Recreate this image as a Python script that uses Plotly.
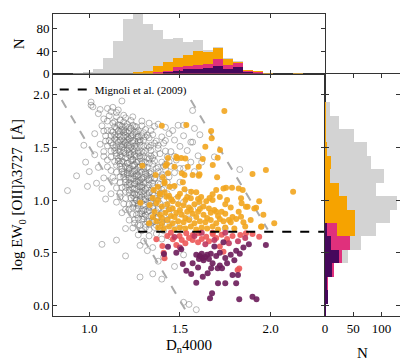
import plotly.graph_objects as go

# ---- scatter data (Dn4000, log EW[OII]) ----
gray_pts = [
    (1.01, 1.93), (1.18, 1.94), (1.01, 1.90), (1.10, 1.87), (1.13, 1.88), (1.02, 1.885),
    (1.05, 1.82), (1.12, 1.84), (1.15, 1.83), (1.08, 1.77), (1.15, 1.79), (1.17, 1.76), (1.20, 1.78),
    (1.13, 1.73), (1.17, 1.71), (1.19, 1.74), (1.21, 1.72), (1.25, 1.70), (1.33, 1.73), (1.38, 1.72), (1.49, 1.71),
    (1.10, 1.66), (1.15, 1.68), (1.18, 1.67), (1.20, 1.65), (1.23, 1.68), (1.27, 1.66), (1.31, 1.67), (1.42, 1.69),
    (1.46, 1.66), (1.58, 1.68),
    (1.03, 1.63), (1.12, 1.61), (1.16, 1.62), (1.19, 1.64), (1.21, 1.60), (1.24, 1.62), (1.26, 1.63), (1.29, 1.61),
    (1.35, 1.62), (1.40, 1.60), (1.44, 1.63), (1.52, 1.61),
    (1.09, 1.56), (1.14, 1.58), (1.17, 1.57), (1.20, 1.55), (1.22, 1.58), (1.25, 1.56), (1.28, 1.57), (1.33, 1.59),
    (1.37, 1.56), (1.47, 1.57), (1.56, 1.55),
    (0.97, 1.52), (1.06, 1.53), (1.15, 1.51), (1.18, 1.53), (1.21, 1.52), (1.23, 1.50), (1.26, 1.53), (1.30, 1.51),
    (1.34, 1.52), (1.41, 1.54), (1.50, 1.51),
    (1.08, 1.46), (1.16, 1.48), (1.19, 1.47), (1.22, 1.45), (1.24, 1.48), (1.27, 1.46), (1.31, 1.47), (1.38, 1.49),
    (1.45, 1.46), (1.54, 1.47),
    (1.03, 1.43), (1.12, 1.41), (1.17, 1.42), (1.20, 1.44), (1.23, 1.41), (1.25, 1.43), (1.28, 1.42), (1.32, 1.40),
    (1.36, 1.43), (1.43, 1.41), (1.60, 1.42),
    (0.98, 1.36), (1.10, 1.38), (1.18, 1.37), (1.21, 1.35), (1.24, 1.38), (1.26, 1.36), (1.29, 1.37), (1.33, 1.39),
    (1.40, 1.36), (1.48, 1.38), (1.56, 1.36),
    (1.05, 1.31), (1.15, 1.33), (1.20, 1.32), (1.22, 1.30), (1.25, 1.33), (1.27, 1.31), (1.30, 1.32), (1.35, 1.34),
    (1.38, 1.31), (1.45, 1.32), (1.52, 1.30),
    (1.00, 1.27), (1.12, 1.28), (1.19, 1.26), (1.22, 1.28), (1.24, 1.27), (1.26, 1.25), (1.28, 1.28), (1.31, 1.26),
    (1.34, 1.27), (1.42, 1.29), (1.47, 1.26), (1.58, 1.27),
    (0.93, 1.23), (1.08, 1.21), (1.17, 1.22), (1.21, 1.24), (1.23, 1.21), (1.25, 1.23), (1.27, 1.22), (1.29, 1.20),
    (1.32, 1.23), (1.36, 1.21), (1.44, 1.22),
    (1.04, 1.16), (1.14, 1.18), (1.20, 1.17), (1.23, 1.15), (1.26, 1.18), (1.28, 1.16), (1.30, 1.17), (1.33, 1.19),
    (1.38, 1.16), (1.50, 1.17),
    (0.99, 1.13), (1.07, 1.11), (1.18, 1.12), (1.22, 1.14), (1.25, 1.11), (1.27, 1.13), (1.29, 1.12), (1.31, 1.10),
    (1.35, 1.13), (1.41, 1.11), (1.46, 1.12),
    (0.88, 1.09), (1.12, 1.06), (1.20, 1.08), (1.24, 1.07), (1.26, 1.05), (1.28, 1.08), (1.30, 1.06), (1.33, 1.07),
    (1.37, 1.09), (1.43, 1.06), (1.55, 1.07),
    (1.09, 1.01), (1.17, 1.03), (1.23, 1.02), (1.26, 1.00), (1.29, 1.03), (1.31, 1.01), (1.34, 1.02), (1.39, 1.04),
    (1.48, 1.01),
    (1.15, 0.98), (1.22, 0.96), (1.25, 0.97), (1.28, 0.99), (1.30, 0.96), (1.32, 0.98), (1.36, 0.97), (1.42, 0.95),
    (1.52, 0.98),
    (1.20, 0.91), (1.24, 0.93), (1.27, 0.92), (1.30, 0.90), (1.33, 0.93), (1.38, 0.91), (1.45, 0.92), (1.60, 0.93),
    (1.18, 0.88), (1.26, 0.86), (1.29, 0.87), (1.32, 0.89), (1.35, 0.86), (1.40, 0.88), (1.50, 0.87),
    (1.22, 0.81), (1.27, 0.83), (1.30, 0.82), (1.33, 0.80), (1.37, 0.83), (1.43, 0.81), (1.55, 0.82),
    (1.25, 0.78), (1.28, 0.76), (1.31, 0.77), (1.35, 0.79), (1.39, 0.76), (1.47, 0.77),
    (1.20, 0.73), (1.29, 0.71), (1.33, 0.72), (1.36, 0.74), (1.41, 0.71), (1.52, 0.72), (1.75, 0.73),
    (1.27, 0.67), (1.33, 0.66), (1.37, 0.68), (1.45, 0.65), (1.15, 0.62), (1.30, 0.61), (1.40, 0.63), (1.07, 0.58),
    (1.28, 0.57), (1.35, 0.55), (1.32, 0.52), (1.20, 0.47), (1.41, 0.46), (1.52, 0.48), (1.38, 0.42), (1.47, 0.37),
    (1.35, 0.30), (1.28, 0.27), (1.40, 0.25), (1.55, 0.01), (1.59, -0.04), (1.52, 0.03),
    (1.14, 1.695), (1.18, 1.70), (1.22, 1.69), (1.26, 1.695),
    (1.13, 1.645), (1.17, 1.65), (1.21, 1.64), (1.25, 1.645), (1.30, 1.64),
    (1.15, 1.595), (1.19, 1.60), (1.23, 1.59), (1.27, 1.595), (1.31, 1.60),
    (1.12, 1.545), (1.16, 1.55), (1.20, 1.54), (1.24, 1.545), (1.28, 1.55), (1.36, 1.54),
    (1.14, 1.495), (1.18, 1.50), (1.22, 1.49), (1.26, 1.495), (1.33, 1.50),
    (1.15, 1.445), (1.19, 1.45), (1.23, 1.44), (1.27, 1.445), (1.30, 1.45), (1.39, 1.44),
    (1.16, 1.395), (1.20, 1.40), (1.24, 1.39), (1.28, 1.395), (1.35, 1.40),
    (1.17, 1.345), (1.21, 1.35), (1.25, 1.34), (1.29, 1.345), (1.33, 1.35), (1.42, 1.34),
    (1.18, 1.295), (1.22, 1.30), (1.26, 1.29), (1.30, 1.295), (1.37, 1.30),
    (1.19, 1.245), (1.23, 1.25), (1.27, 1.24), (1.31, 1.245), (1.34, 1.25), (1.40, 1.24),
    (1.20, 1.195), (1.24, 1.20), (1.28, 1.19), (1.32, 1.195), (1.36, 1.20),
    (1.21, 1.145), (1.25, 1.15), (1.29, 1.14), (1.33, 1.145), (1.39, 1.15),
    (1.22, 1.095), (1.26, 1.10), (1.30, 1.09), (1.34, 1.095), (1.40, 1.10),
    (1.24, 1.045), (1.28, 1.05), (1.32, 1.04), (1.36, 1.045),
    (1.26, 0.995), (1.30, 1.00), (1.34, 0.99), (1.38, 0.995),
    (1.27, 0.945), (1.31, 0.95), (1.35, 0.94), (1.29, 0.895), (1.33, 0.90), (1.37, 0.89),
    (1.30, 0.845), (1.34, 0.85), (1.38, 0.84), (1.32, 0.795), (1.36, 0.80), (1.40, 0.79),
    (1.57, 1.85), (1.52, 1.71), (1.61, 1.62), (1.57, 1.55), (1.69, 1.41), (1.83, 1.29), (1.62, 1.36), (1.50, 1.30),
    (1.06, 1.86), (1.16, 1.855), (1.11, 1.80), (1.19, 1.805), (1.24, 1.79),
    (1.10, 1.75), (1.14, 1.745), (1.23, 1.755), (1.29, 1.75),
    (1.07, 1.705), (1.16, 1.715), (1.20, 1.70), (1.24, 1.71), (1.29, 1.705), (1.36, 1.70),
    (1.08, 1.655), (1.12, 1.66), (1.16, 1.655), (1.19, 1.665), (1.22, 1.655), (1.26, 1.65), (1.34, 1.66),
    (1.09, 1.61), (1.14, 1.615), (1.17, 1.605), (1.20, 1.615), (1.23, 1.61), (1.27, 1.605), (1.32, 1.615),
    (1.11, 1.565), (1.15, 1.57), (1.19, 1.56), (1.21, 1.575), (1.24, 1.565), (1.27, 1.56), (1.30, 1.57), (1.42, 1.565),
    (1.10, 1.515), (1.13, 1.52), (1.17, 1.51), (1.19, 1.525), (1.22, 1.515), (1.25, 1.51), (1.28, 1.52),
    (1.32, 1.515), (1.38, 1.52),
    (1.12, 1.465), (1.14, 1.47), (1.17, 1.46), (1.21, 1.475), (1.25, 1.465), (1.29, 1.46), (1.34, 1.47), (1.42, 1.465),
    (1.08, 1.415), (1.15, 1.42), (1.18, 1.41), (1.22, 1.425), (1.26, 1.415), (1.30, 1.41), (1.34, 1.42), (1.47, 1.415),
    (1.14, 1.365), (1.16, 1.37), (1.19, 1.36), (1.23, 1.375), (1.27, 1.365), (1.31, 1.36), (1.36, 1.37), (1.44, 1.365),
    (1.10, 1.315), (1.17, 1.32), (1.21, 1.31), (1.24, 1.325), (1.28, 1.315), (1.32, 1.31), (1.41, 1.32),
    (1.15, 1.265), (1.18, 1.27), (1.21, 1.26), (1.25, 1.275), (1.29, 1.265), (1.33, 1.26), (1.38, 1.27),
    (1.13, 1.215), (1.19, 1.22), (1.22, 1.21), (1.26, 1.225), (1.30, 1.215), (1.34, 1.21), (1.40, 1.22),
    (1.17, 1.165), (1.22, 1.17), (1.25, 1.16), (1.27, 1.175), (1.31, 1.165), (1.35, 1.16), (1.43, 1.17),
    (1.15, 1.115), (1.20, 1.12), (1.24, 1.11), (1.28, 1.125), (1.32, 1.115), (1.38, 1.11),
    (1.17, 1.065), (1.22, 1.07), (1.25, 1.06), (1.29, 1.075), (1.35, 1.065), (1.40, 1.06),
    (1.20, 1.015), (1.25, 1.02), (1.28, 1.01), (1.33, 1.025), (1.37, 1.015), (1.44, 1.01),
    (1.19, 0.965), (1.24, 0.97), (1.27, 0.96), (1.34, 0.975), (1.39, 0.965),
    (1.22, 0.915), (1.26, 0.92), (1.31, 0.91), (1.35, 0.925), (1.41, 0.915),
    (1.24, 0.865), (1.28, 0.87), (1.31, 0.86), (1.37, 0.875), (1.44, 0.865),
    (1.25, 0.815), (1.29, 0.82), (1.35, 0.81), (1.40, 0.825),
    (1.27, 0.765), (1.33, 0.77), (1.37, 0.76), (1.43, 0.775),
    (1.24, 0.735), (1.31, 0.74), (1.39, 0.73),
]

orange_pts = [
    (1.745, 1.845), (1.40, 1.705), (1.535, 1.712), (1.672, 1.655), (1.675, 1.586), (1.64, 1.506), (1.721, 1.475),
    (1.626, 1.39), (1.708, 1.402), (1.483, 1.396), (1.507, 1.40), (1.53, 1.395), (1.434, 1.40), (1.48, 1.41),
    (1.681, 1.333), (1.604, 1.317), (1.90, 1.247), (1.974, 1.285), (1.543, 1.317), (1.705, 1.216), (1.604, 1.231),
    (1.516, 1.168), (1.415, 1.174), (1.293, 1.326), (1.421, 1.326), (1.47, 1.316), (1.428, 1.342), (1.366, 1.238),
    (1.406, 1.216), (1.434, 1.254), (1.51, 1.254), (1.57, 1.238), (1.525, 1.238), (1.608, 1.244),
    (1.754, 1.117), (1.787, 1.117), (1.824, 1.11), (1.846, 1.095), (2.124, 1.08), (1.70, 1.095), (1.68, 1.055),
    (1.59, 1.074), (1.56, 1.017), (1.663, 1.02), (1.645, 0.99), (1.837, 1.017), (1.84, 0.969), (1.873, 0.937),
    (1.937, 0.99), (1.75, 0.96), (1.78, 0.93), (1.70, 0.89), (1.73, 0.89), (1.837, 0.842), (1.92, 0.928),
    (1.824, 0.89), (1.77, 0.81), (1.617, 1.03), (1.608, 0.985),
    (1.378, 1.127), (1.355, 1.095), (1.415, 1.16), (1.443, 1.127), (1.47, 1.133), (1.525, 1.102), (1.562, 1.08),
    (1.74, 1.11), (1.72, 1.03), (1.388, 1.064), (1.425, 1.032), (1.452, 1.007), (1.489, 1.032),
    (1.282, 0.975), (1.333, 0.953), (1.379, 1.0), (1.415, 1.074), (1.37, 0.97), (1.40, 0.94), (1.43, 0.96),
    (1.46, 0.92), (1.49, 0.96), (1.52, 0.95), (1.55, 0.93), (1.58, 0.96), (1.63, 0.94), (1.66, 0.92),
    (1.36, 0.89), (1.39, 0.86), (1.42, 0.88), (1.45, 0.85), (1.48, 0.88), (1.51, 0.86), (1.54, 0.89), (1.57, 0.87),
    (1.60, 0.89), (1.63, 0.86), (1.67, 0.88), (1.71, 0.85), (1.75, 0.87), (1.79, 0.84),
    (1.37, 0.80), (1.40, 0.78), (1.43, 0.81), (1.46, 0.78), (1.49, 0.80), (1.52, 0.79), (1.55, 0.81), (1.58, 0.78),
    (1.61, 0.80), (1.64, 0.79), (1.67, 0.81), (1.70, 0.78), (1.74, 0.80), (1.78, 0.79), (1.81, 0.82), (1.85, 0.79),
    (1.89, 0.81),
    (1.38, 0.74), (1.41, 0.73), (1.44, 0.75), (1.47, 0.72), (1.50, 0.74), (1.53, 0.73), (1.56, 0.75), (1.59, 0.72),
    (1.62, 0.74), (1.65, 0.73), (1.68, 0.75), (1.71, 0.72), (1.75, 0.74), (1.80, 0.73), (1.86, 0.75), (1.947, 0.747),
    (1.40, 0.83), (1.47, 0.84), (1.53, 0.83), (1.59, 0.84), (1.65, 0.83), (1.72, 0.82), (1.33, 0.78), (1.35, 0.84),
    (1.44, 0.91), (1.50, 0.905), (1.56, 0.91), (1.61, 0.915), (1.69, 0.905),
    (1.864, 0.937), (1.91, 0.92), (1.96, 0.86), (2.02, 0.78), (1.95, 0.75),
    (1.35, 1.02), (1.39, 1.05), (1.44, 1.04), (1.50, 1.06), (1.54, 1.03), (1.46, 0.99), (1.53, 1.00), (1.60, 1.01),
    (1.68, 1.00), (1.76, 1.00),
]

red_pts = [
    (1.37, 0.628), (1.403, 0.564), (1.41, 0.50), (1.415, 0.447), (1.461, 0.628), (1.48, 0.574), (1.498, 0.66),
    (1.535, 0.685), (1.571, 0.668), (1.51, 0.62), (1.53, 0.59), (1.57, 0.62), (1.604, 0.685), (1.645, 0.652),
    (1.681, 0.678), (1.62, 0.63), (1.66, 0.61), (1.70, 0.64), (1.73, 0.67), (1.76, 0.63), (1.79, 0.66), (1.72, 0.56),
    (1.74, 0.51), (1.833, 0.668), (1.864, 0.685), (1.90, 0.678), (1.937, 0.652), (1.827, 0.35), (1.818, 0.336),
    (1.45, 0.69), (1.43, 0.66), (1.55, 0.64), (1.60, 0.60), (1.68, 0.69),
]

crimson_pts = [
    (1.58, 0.66), (1.64, 0.58), (1.69, 0.62), (1.77, 0.59), (1.82, 0.61), (1.50, 0.55), (1.47, 0.65), (1.75, 0.69),
    (1.86, 0.64), (1.62, 0.69),
]

purple_pts = [
    (1.412, 0.488), (1.434, 0.557), (1.48, 0.50), (1.507, 0.533), (1.59, 0.48), (1.61, 0.47), (1.62, 0.49),
    (1.625, 0.45), (1.63, 0.43), (1.64, 0.46), (1.65, 0.48), (1.605, 0.44), (1.66, 0.44), (1.516, 0.393),
    (1.535, 0.33), (1.562, 0.298), (1.59, 0.216), (1.67, 0.49), (1.70, 0.47), (1.72, 0.50), (1.68, 0.40),
    (1.72, 0.38), (1.75, 0.45), (1.78, 0.48), (1.76, 0.40), (1.80, 0.43), (1.81, 0.52), (1.83, 0.49), (1.85, 0.55),
    (1.88, 0.58), (1.672, 0.353), (1.708, 0.353), (1.732, 0.353), (1.653, 0.305), (1.626, 0.273), (1.71, 0.21),
    (1.75, 0.21), (1.79, 0.29), (1.82, 0.29), (1.81, 0.21), (1.677, 0.115), (1.666, 0.068), (1.827, 0.058),
    (1.90, 0.083), (1.922, 0.058), (1.974, 0.574), (1.69, 0.56), (1.74, 0.60), (1.57, 0.40), (1.60, 0.36),
]

# Mignoli et al. (2009) boundaries
mig_left_x = [0.848, 1.55]
mig_left_y = [1.95, -0.10]
mig_right_x = [1.56, 1.984]
mig_right_y = [1.95, 0.72]
cut_x = [1.27, 2.30]
cut_y = [0.70, 0.70]

# ---- top histogram (Dn4000) ----
dn_centers = [0.94, 0.995, 1.05, 1.105, 1.16, 1.215, 1.27, 1.325, 1.38, 1.435, 1.49, 1.545,
              1.60, 1.655, 1.71, 1.765, 1.82, 1.875, 1.93, 1.985, 2.04, 2.095, 2.15, 2.205]
dn_all = [1, 2, 8, 27, 58, 97, 113, 89, 77, 61, 64, 56, 59, 42, 48, 27, 22, 7, 4, 1, 0, 0, 1, 0]
dn_orange = [0, 0, 0, 0, 0, 0, 2, 4, 14, 21, 28, 33, 41, 38, 45, 26, 21, 7, 4, 1, 0, 0, 1, 0]
dn_pink = [0, 0, 0, 0, 0, 0, 0, 0, 2, 4, 11, 13, 16, 17, 26, 16, 18, 4, 2, 0, 0, 0, 0, 0]
dn_purple = [0, 0, 0, 0, 0, 0, 0, 0, 0, 2, 4, 8, 9, 10, 13, 9, 11, 3, 1, 0, 0, 0, 0, 0]

# ---- right histogram (log EW) ----
ew_centers = [1.870, 1.742, 1.615, 1.487, 1.360, 1.232, 1.105, 0.977, 0.850, 0.722, 0.595, 0.467,
              0.340, 0.212, 0.085, -0.043]
ew_all = [8, 24, 51, 74, 81, 105, 91, 127, 116, 91, 63, 41, 16, 6, 6, 1]
ew_orange = [1, 1, 1, 2, 10, 8, 25, 39, 53, 53, 45, 31, 16, 5, 5, 1]
ew_pink = [0, 0, 0, 0, 0, 0, 0, 0, 0, 21, 45, 31, 16, 5, 5, 1]
ew_purple = [0, 0, 0, 0, 0, 0, 0, 0, 0, 3, 10, 24, 13, 4, 5, 1]

GRAY_H = "#d3d3d3"
ORANGE_H = "#f6a300"
PINK_H = "#e0307c"
PURPLE_H = "#46085c"
FONT = "Liberation Serif"

fig = go.Figure()


def xs(pts):
    return [p[0] for p in pts]


def ys(pts):
    return [p[1] for p in pts]


fig.add_trace(go.Scatter(x=xs(gray_pts), y=ys(gray_pts), mode="markers", showlegend=False,
                         marker=dict(symbol="circle-open", size=6, color="rgba(110,110,110,0.55)",
                                     line=dict(width=0.9))))
fig.add_trace(go.Scatter(x=mig_left_x, y=mig_left_y, mode="lines", showlegend=False,
                         line=dict(color="#aaaaaa", width=2, dash="dash")))
fig.add_trace(go.Scatter(x=mig_right_x, y=mig_right_y, mode="lines", showlegend=False,
                         line=dict(color="#aaaaaa", width=2, dash="dash")))
fig.add_trace(go.Scatter(x=xs(orange_pts), y=ys(orange_pts), mode="markers", showlegend=False,
                         marker=dict(size=6, color="rgba(242,165,30,0.9)")))
fig.add_trace(go.Scatter(x=xs(red_pts), y=ys(red_pts), mode="markers", showlegend=False,
                         marker=dict(size=6, color="rgba(236,88,88,0.9)")))
fig.add_trace(go.Scatter(x=xs(crimson_pts), y=ys(crimson_pts), mode="markers", showlegend=False,
                         marker=dict(size=6, color="rgba(190,55,95,0.9)")))
fig.add_trace(go.Scatter(x=xs(purple_pts), y=ys(purple_pts), mode="markers", showlegend=False,
                         marker=dict(size=6, color="rgba(108,28,90,0.9)")))
fig.add_trace(go.Scatter(x=cut_x, y=cut_y, mode="lines", name="Mignoli et al. (2009)",
                         line=dict(color="black", width=2, dash="dash")))

# top histogram
for counts, col in [(dn_all, GRAY_H), (dn_orange, ORANGE_H), (dn_pink, PINK_H), (dn_purple, PURPLE_H)]:
    fig.add_trace(go.Bar(x=dn_centers, y=counts, width=0.0551, marker=dict(color=col, line=dict(width=0)),
                         xaxis="x2", yaxis="y2", showlegend=False))

# right histogram
for counts, col in [(ew_all, GRAY_H), (ew_orange, ORANGE_H), (ew_pink, PINK_H), (ew_purple, PURPLE_H)]:
    fig.add_trace(go.Bar(y=ew_centers, x=counts, width=0.1275, orientation="h",
                         marker=dict(color=col, line=dict(width=0)),
                         xaxis="x3", yaxis="y3", showlegend=False))

axis_style = dict(showline=True, linecolor="#333333", linewidth=1, mirror="ticks", ticks="inside",
                  ticklen=4, tickcolor="#333333", showgrid=False, zeroline=False, automargin=False,
                  tickfont=dict(family=FONT, size=13, color="black"))

xd = [0, 0.7839]
yd = [0, 0.8026]

# the page body adds an 8px offset, so the figure is 8px smaller and margins shifted
fig.update_layout(
    width=400, height=356,
    margin=dict(l=45, r=8, t=6, b=48),
    plot_bgcolor="white", paper_bgcolor="white",
    barmode="overlay", bargap=0,
    font=dict(family=FONT, color="black"),
    xaxis=dict(domain=xd, anchor="y", range=[0.8, 2.3], tickvals=[1.0, 1.5, 2.0],
               ticktext=["1.0", "1.5", "2.0"],
               title=dict(text="D<sub>n</sub>4000", font=dict(family=FONT, size=15), standoff=4),
               **axis_style),
    yaxis=dict(domain=yd, anchor="x", range=[-0.1, 2.2], tickvals=[0, 0.5, 1.0, 1.5, 2.0],
               ticktext=["0.0", "0.5", "1.0", "1.5", "2.0"],
               title=dict(text="log EW<sub>0</sub> [OII]λ3727  [Å]", font=dict(family=FONT, size=15),
                          standoff=6),
               **axis_style),
    xaxis2=dict(domain=xd, anchor="y2", range=[0.8, 2.3], tickvals=[1.0, 1.5, 2.0],
                showticklabels=False, **axis_style),
    yaxis2=dict(domain=[yd[1], 1], anchor="x2", range=[0, 106], tickvals=[0, 40, 80],
                title=dict(text="N", font=dict(family=FONT, size=15), standoff=8),
                **axis_style),
    xaxis3=dict(domain=[xd[1], 1], anchor="y3", range=[0, 133], tickvals=[0, 50, 100],
                title=dict(text="N", font=dict(family=FONT, size=15), standoff=12),
                **axis_style),
    yaxis3=dict(domain=yd, anchor="x3", range=[-0.1, 2.2], tickvals=[0, 0.5, 1.0, 1.5, 2.0],
                showticklabels=False, **axis_style),
    legend=dict(x=0.005, y=yd[1] - 0.005, xanchor="left", yanchor="top", bgcolor="rgba(0,0,0,0)",
                font=dict(family=FONT, size=11), itemwidth=30, tracegroupgap=0),
)

fig.write_html("out.html")
